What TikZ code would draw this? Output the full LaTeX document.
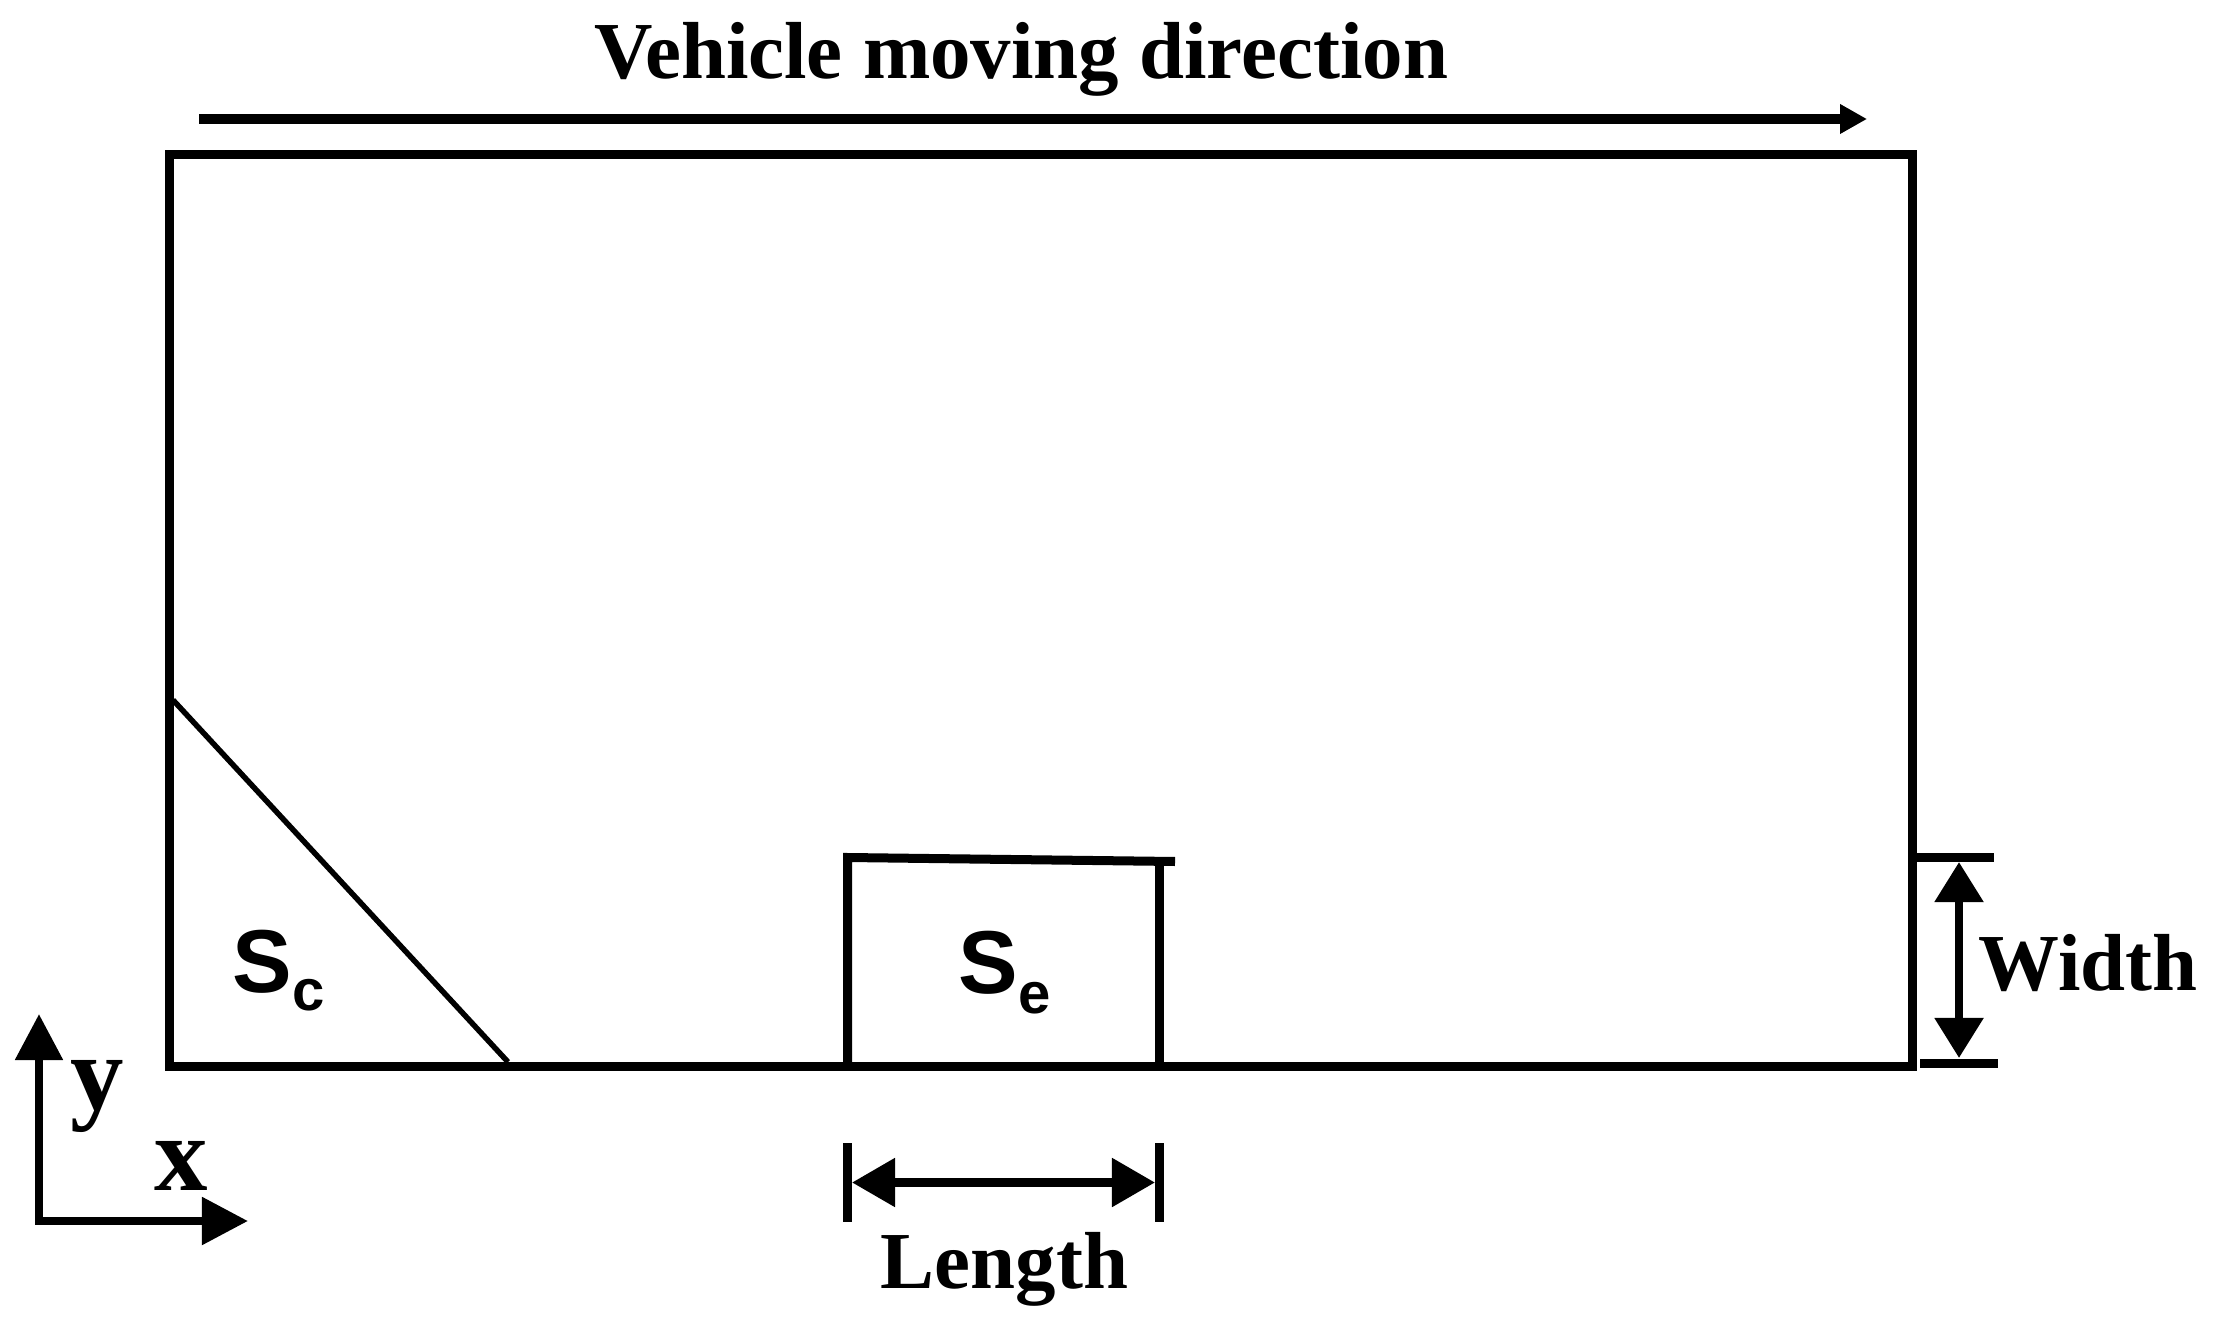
\documentclass[tikz,border=0pt]{standalone}
\usepackage{fontspec}
\setmainfont{Liberation Serif}
\newfontfamily\arialf{Liberation Sans}
\usetikzlibrary{arrows.meta}
\begin{document}
\begin{tikzpicture}[x=0.01cm,y=-0.01cm,
  frame/.style={line width=0.09cm, line join=miter},
  thinline/.style={line width=0.055cm},
  dirarrow/.style={line width=0.10cm, -{Triangle[length=0.27cm,width=0.28cm]}},
  dimarrow/.style={line width=0.085cm, {Triangle[length=0.43cm,width=0.47cm]}-{Triangle[length=0.43cm,width=0.47cm]}},
  wdimarrow/.style={line width=0.085cm, {Triangle[length=0.40cm,width=0.47cm]}-{Triangle[length=0.40cm,width=0.47cm]}},
  axisarrow/.style={line width=0.085cm, line join=miter, {Triangle[length=0.46cm,width=0.46cm]}-{Triangle[length=0.46cm,width=0.46cm]}},
  txt/.style={font=\bfseries\fontsize{23pt}{23pt}\selectfont, inner sep=0pt, anchor=base},
  axtxt/.style={font=\bfseries\fontsize{30.4pt}{30.4pt}\selectfont, inner sep=0pt, anchor=base},
  sym/.style={font=\arialf\bfseries\fontsize{25.4pt}{25.4pt}\selectfont, inner sep=0pt, anchor=base west}
]
\useasboundingbox (0,0) rectangle (2213,1322);
% main frame
\coordinate (tl) at (169.5,154.5);
\coordinate (br) at (1912,1066);
\draw[frame] (tl) rectangle (br);
% moving direction
\node[txt] (title) at (1021,79) {Vehicle moving direction};
\coordinate (da) at (199,119);
\coordinate (db) at (1867,119);
\draw[dirarrow] (da) -- (db);
% diagonal
\coordinate (ca) at (173,700);
\coordinate (cb) at (508,1062);
\draw[thinline] (ca) -- (cb);
\node[sym] (sc) at (232,992) {S\raisebox{-0.18cm}{\fontsize{16.5pt}{16.5pt}\selectfont c}};
% Se box
\coordinate (e1) at (847.5,1066);
\coordinate (e2) at (847.5,857.5);
\coordinate (e3) at (1175,861.5);
\coordinate (e4) at (1159,861);
\coordinate (e5) at (1159,1066);
\draw[frame] (e1) -- (e2) -- (e3);
\draw[frame] (e4) -- (e5);
\node[sym] (se) at (958,993) {S\raisebox{-0.20cm}{\fontsize{16.5pt}{16.5pt}\selectfont e}};
% Length
\coordinate (l1a) at (847.5,1143); \coordinate (l1b) at (847.5,1222);
\coordinate (l2a) at (1159.5,1143); \coordinate (l2b) at (1159.5,1222);
\draw[frame] (l1a) -- (l1b);
\draw[frame] (l2a) -- (l2b);
\coordinate (la) at (852,1182.5); \coordinate (lb) at (1155,1182.5);
\draw[dimarrow] (la) -- (lb);
\node[txt] (length) at (1004.5,1288) {Length};
% Width
\coordinate (w1a) at (1917,857); \coordinate (w1b) at (1994,857);
\coordinate (w2a) at (1920,1063); \coordinate (w2b) at (1998,1063);
\draw[frame] (w1a) -- (w1b);
\draw[frame] (w2a) -- (w2b);
\coordinate (wa) at (1959,862); \coordinate (wb) at (1959,1058);
\draw[wdimarrow] (wa) -- (wb);
\node[txt] (width) at (2088,990) {Width};
% axes
\coordinate (ya) at (39,1014);
\coordinate (o) at (39,1221);
\coordinate (xa) at (248,1221);
\draw[axisarrow] (ya) -- (o) -- (xa);
\node[axtxt] (ylab) at (97.5,1109) {y};
\node[axtxt] (xlab) at (181,1190) {x};
\end{tikzpicture}
\end{document}
